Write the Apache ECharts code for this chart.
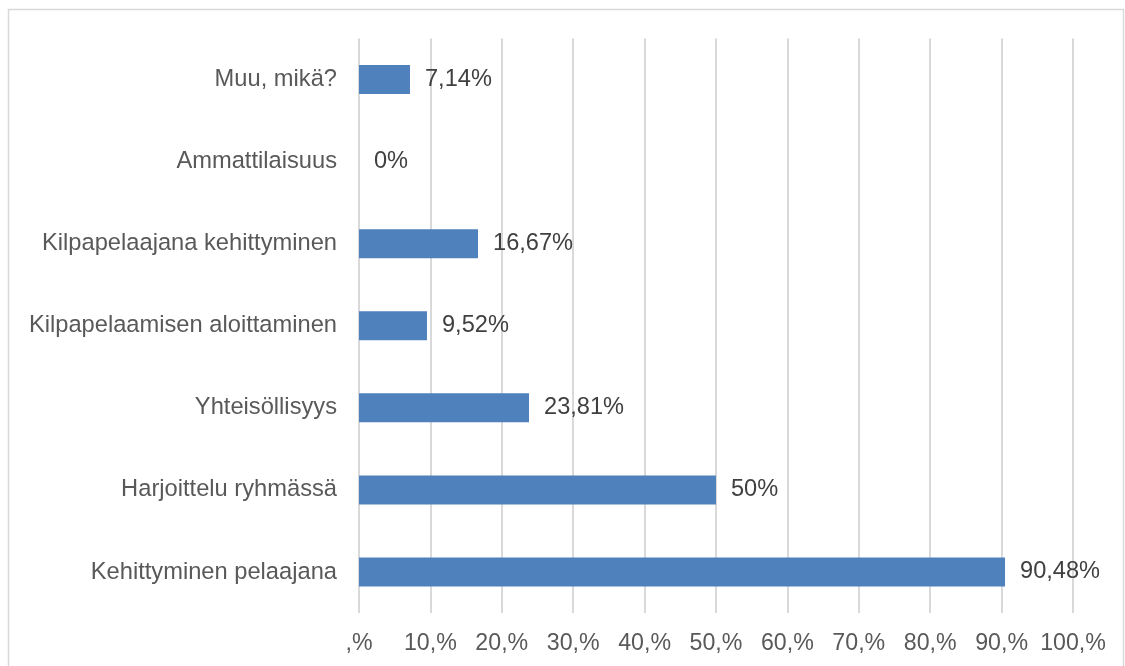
<!DOCTYPE html>
<html>
<head>
<meta charset="utf-8">
<script src="https://cdn.jsdelivr.net/npm/echarts@6/dist/echarts.min.js"></script>
<style>
  html, body { margin: 0; padding: 0; background: #ffffff; }
  #chart { width: 1125px; height: 666px; }
</style>
</head>
<body>
<div id="chart"></div>
<script>
// Categories listed bottom to top (category axis starts at the bottom)
const categories = [
  'Kehittyminen pelaajana',
  'Harjoittelu ryhmässä',
  'Yhteisöllisyys',
  'Kilpapelaamisen aloittaminen',
  'Kilpapelaajana kehittyminen',
  'Ammattilaisuus',
  'Muu, mikä?'
];
const shares = [90.48, 50, 23.81, 9.52, 16.67, 0, 7.14];
const tickLabels = [',%', '10,%', '20,%', '30,%', '40,%', '50,%', '60,%', '70,%', '80,%', '90,%', '100,%'];

const FONT = 'Arial, "Liberation Sans", Helvetica, sans-serif';

const chart = echarts.init(document.getElementById('chart'), null, { renderer: 'canvas' });

chart.setOption({
  backgroundColor: '#ffffff',
  animation: false,
  textStyle: { fontFamily: FONT },
  graphic: [{
    type: 'rect',
    shape: { x: 8.5, y: 9.5, width: 1115, height: 680 },
    style: { fill: 'none', stroke: '#d9d9d9', lineWidth: 1.5 },
    silent: true
  }],
  grid: { left: 359, right: 52, top: 38.5, bottom: 53, containLabel: false },
  xAxis: {
    type: 'value',
    min: 0,
    max: 100,
    interval: 10,
    axisLine: { show: false },
    axisTick: { show: false },
    axisLabel: {
      color: '#595959',
      fontSize: 23.2,
      fontFamily: FONT,
      margin: 19,
      formatter: v => tickLabels[Math.round(v / 10)]
    },
    splitLine: { show: true, lineStyle: { color: '#d9d9d9', width: 2 } }
  },
  yAxis: {
    type: 'category',
    data: categories,
    axisLine: { show: false },
    axisTick: { show: false },
    axisLabel: {
      color: '#595959',
      fontSize: 23.7,
      fontFamily: FONT,
      margin: 22
    },
    splitLine: { show: false }
  },
  series: [{
    type: 'bar',
    data: shares,
    barWidth: 29,
    itemStyle: { color: '#4f81bd' },
    label: {
      show: true,
      position: 'right',
      distance: 15,
      color: '#404040',
      fontSize: 23.6,
      fontFamily: FONT,
      formatter: p => String(p.value).replace('.', ',') + '%'
    }
  }]
});
</script>
</body>
</html>
